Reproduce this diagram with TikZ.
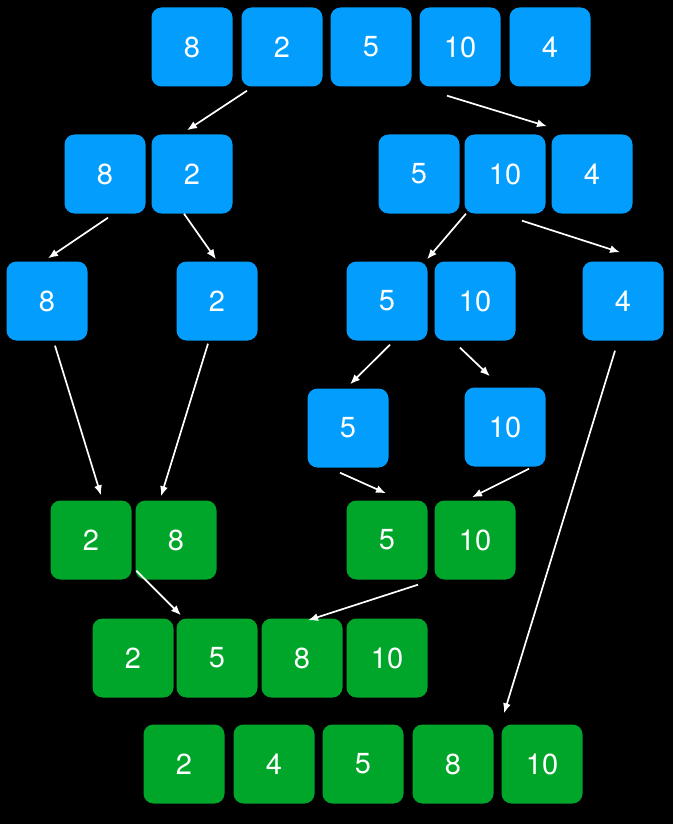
\documentclass[tikz,border=0pt]{standalone}
\usepackage{fontspec}
\newfontfamily\cellfont{TeX Gyre Heros}
\usetikzlibrary{arrows.meta}
\definecolor{splitblue}{RGB}{3,158,253}
\definecolor{mergegreen}{RGB}{0,166,41}

\begin{document}
\begin{tikzpicture}[x=1pt,y=-1pt,
    cell/.style={
% The shape:
rectangle, rounded corners=10pt,
% The size:
minimum width=81pt, minimum height=79pt, inner sep=0pt,
% The text:
text=white, font=\cellfont\fontsize{29}{34}\selectfont,
},
    split/.style={cell, fill=splitblue},
    merged/.style={cell, fill=mergegreen},
    link/.style={white, line width=1.7pt, -{Latex[length=10pt,width=8pt]}},
]
  \fill[black] (0,0) rectangle (673,824);
  \useasboundingbox (0,0) rectangle (673,824);

  % whole list
  \node[split] (a1) at (192,47) {8};
  \node[split] (a2) at (282,47) {2};
  \node[split] (a3) at (371,47) {5};
  \node[split] (a4) at (460,47) {10};
  \node[split] (a5) at (550,47) {4};

  % first split
  \node[split] (c1) at (105,174) {8};
  \node[split] (c2) at (192,174) {2};
  \node[split] (d1) at (419,174) {5};
  \node[split] (d2) at (505,174) {10};
  \node[split] (d3) at (592,174) {4};

  % second split
  \node[split] (e1) at (47,301) {8};
  \node[split] (e2) at (217,301) {2};
  \node[split] (f1) at (387,301) {5};
  \node[split] (f2) at (475,301) {10};
  \node[split] (f3) at (623,301) {4};

  \node[split] (g1) at (348,428) {5};
  \node[split] (g2) at (505,427) {10};

  % merging
  \node[merged] (k1) at (91,540) {2};
  \node[merged] (k2) at (176,540) {8};
  \node[merged] (h1) at (387,540) {5};
  \node[merged] (h2) at (475,540) {10};

  \node[merged] (l1) at (133,658) {2};
  \node[merged] (l2) at (217,658) {5};
  \node[merged] (l3) at (302,658) {8};
  \node[merged] (l4) at (387,658) {10};

  \node[merged] (m1) at (184,764) {2};
  \node[merged] (m2) at (274,764) {4};
  \node[merged] (m3) at (363,764) {5};
  \node[merged] (m4) at (453,764) {8};
  \node[merged] (m5) at (542,764) {10};

  \draw[link] ([xshift=-35pt,yshift=-4pt]a2.south) -- ([xshift=-5pt,yshift=4pt]c2.north);
  \draw[link] ([xshift=-13pt,yshift=-9pt]a4.south) -- ([xshift=-45pt,yshift=8pt]d3.north);
  \draw[link] ([xshift=3pt,yshift=-4pt]c1.south) -- ([xshift=1pt,yshift=3pt]e1.north);
  \draw[link] ([xshift=-8pt]c2.south) -- ([xshift=-1pt,yshift=2pt]e2.north);
  \draw[link] ([xshift=-39pt]d2.south) -- ([xshift=40pt,yshift=2pt]f1.north);
  \draw[link] ([xshift=17pt,yshift=-7pt]d2.south) -- ([xshift=-3pt,yshift=9pt]f3.north);
  \draw[link] ([xshift=3pt,yshift=-4pt]f1.south) -- ([xshift=2pt,yshift=4pt]g1.north);
  \draw[link] ([xshift=-15pt,yshift=-7pt]f2.south) -- ([xshift=-15pt,yshift=11pt]g2.north);
  \draw[link] ([xshift=-8pt,yshift=-5pt]g1.south) -- ([xshift=-1pt,yshift=7pt]h1.north);
  \draw[link] ([xshift=24pt,yshift=-2pt]g2.south) -- ([xshift=-3pt,yshift=3pt]h2.north);
  \draw[link] ([xshift=8pt,yshift=-5pt]e1.south) -- ([xshift=10pt,yshift=5pt]k1.north);
  \draw[link] ([xshift=-9pt,yshift=-3pt]e2.south) -- ([xshift=-15pt,yshift=4pt]k2.north);
  \draw[link] ([xshift=-8pt,yshift=-10pt]f3.south) -- ([xshift=-38pt,yshift=11pt]m5.north);
  \draw[link] ([xshift=1pt,yshift=9pt]k2.south west) -- ([xshift=-36pt,yshift=3pt]l2.north);
  \draw[link] ([xshift=31pt,yshift=-5pt]h1.south) -- ([xshift=6pt,yshift=-2pt]l3.north);

\end{tikzpicture}
\end{document}
